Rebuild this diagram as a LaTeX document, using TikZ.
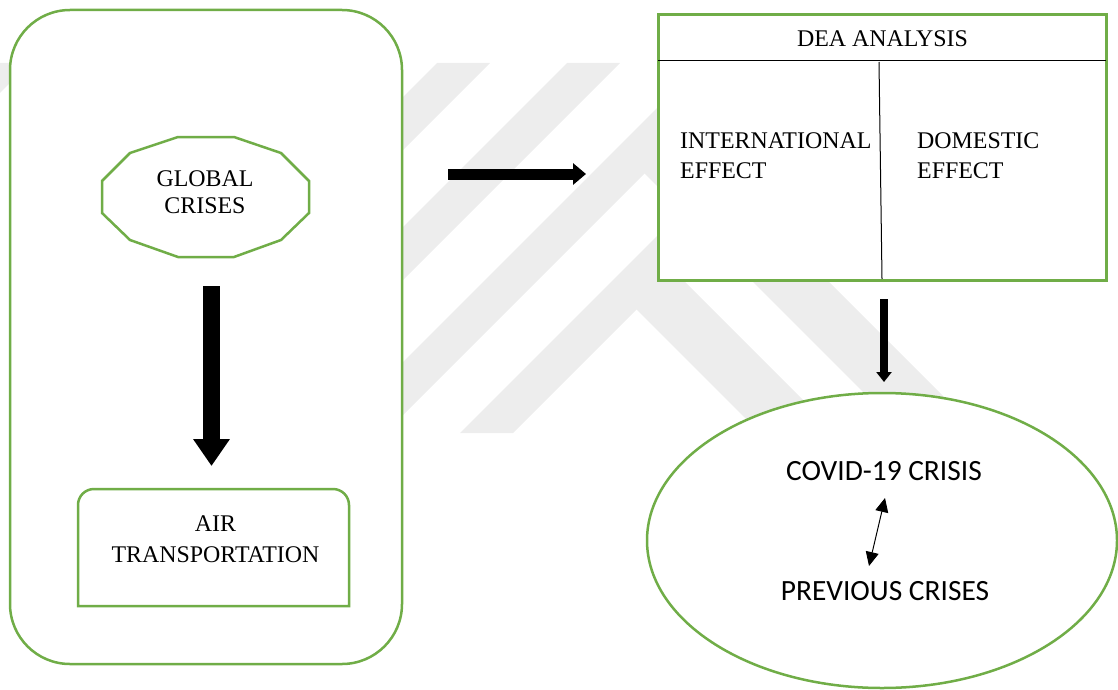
\documentclass[tikz,border=0pt]{standalone}
\usepackage{fontspec}
\setmainfont{Liberation Serif}
\newfontfamily\calibrifont{Carlito}
\usetikzlibrary{arrows.meta,shapes.geometric}
\definecolor{xgreen}{HTML}{70AD47}
\definecolor{wmgrey}{HTML}{EDEDED}
\begin{document}
\begin{tikzpicture}[x=1pt,y=-1pt,
  greenline/.style={draw=xgreen, line width=2.5pt, fill=white},
  lbl/.style={font=\fontsize{23.9}{30}\selectfont, inner sep=0pt, align=center},
  sanslbl/.style={font=\calibrifont\fontsize{29.4}{35}\selectfont, inner sep=0pt},
  wm/.style={fill=wmgrey},
  thinline/.style={draw=black, line width=1pt},
  blockarrow/.style={draw=black, line width=#1}
]
\useasboundingbox (0,0) rectangle (1118,690);
% watermark
\fill[wm] (0,63) -- (30,63) -- (0,93) -- cycle;
\fill[wm] (437,63) -- (490,63) -- (402,151) -- (402,98) -- cycle;
\fill[wm] (567,63) -- (620,63) -- (402,281) -- (402,228) -- cycle;
% band c and its down-right arm
\fill[wm] (402,363) -- (720,45) -- (720,98) -- (402,416) -- cycle;
\fill[wm] (644.5,173.5) -- (991,520) -- (1067,520) -- (668.5,121.5) -- cycle;
% band d and its down-right arm
\fill[wm] (460,433) -- (730,163) -- (783,163) -- (513,433) -- cycle;
\fill[wm] (636.5,309.5) -- (777,450) -- (853,450) -- (656.5,253.5) -- cycle;
% left panel
\node[greenline, rounded corners=60pt, minimum width=392pt, minimum height=654pt, inner sep=0pt] (outer) at (206,337) {};
\draw[greenline] (178,137) -- (234,137) -- (281,153) -- (309,181) -- (309,213) -- (281,240) -- (234,257) -- (178,257) -- (130,240) -- (102,213) -- (102,181) -- (130,153) -- cycle;
\node[lbl, font=\fontsize{23.9}{26.7}\selectfont] (gc) at (205,192) {GLOBAL\\CRISES};
\draw[greenline] (78,606) -- (78,560) [rounded corners=16pt] -- (78,489) -- (349,489) -- (349,560) [sharp corners] -- (349,606) -- cycle;
\node[lbl, font=\fontsize{23.9}{31}\selectfont] (air) at (215.5,539.2) {AIR\\TRANSPORTATION};
\coordinate (a1s) at (211.5,286);
\coordinate (a1e) at (211.5,466);
\draw[blockarrow=17pt, -{Triangle[width=35pt,length=27pt]}] (a1s) -- (a1e);
% middle arrow
\coordinate (a2s) at (448,174);
\coordinate (a2e) at (586,174);
\draw[blockarrow=11pt, -{Triangle[width=21pt,length=13pt]}] (a2s) -- (a2e);
% DEA box
\node[draw=xgreen, line width=2.7pt, fill=white, minimum width=448pt, minimum height=266pt, inner sep=0pt] (dea) at (882.3,147.2) {};
\draw[thinline] (658.3,61) -- (1106.3,61);
\draw[thinline] (879,62) -- (882,279);
\node[lbl] (deat) at (882.5,38.8) {DEA ANALYSIS};
\node[lbl, align=left, anchor=west] (intl) at (680,155.3) {INTERNATIONAL\\EFFECT};
\node[lbl, align=left, anchor=west] (dom) at (917,155.3) {DOMESTIC\\EFFECT};
% arrow to ellipse
\coordinate (a3s) at (884,299);
\coordinate (a3e) at (884,382);
\draw[blockarrow=8pt, -{Triangle[width=15pt,length=10pt]}] (a3s) -- (a3e);
% ellipse
\node[greenline, ellipse, minimum width=470pt, minimum height=295pt, inner sep=0pt] (ell) at (882,540.5) {};
\node[sanslbl] (covid) at (884,471) {COVID-19 CRISIS};
\node[sanslbl] (prev) at (885,591) {PREVIOUS CRISES};
\coordinate (d1) at (885,498);
\coordinate (d2) at (869,566);
\draw[thinline, {Triangle[width=13pt,length=14pt]}-{Triangle[width=13pt,length=14pt]}] (d1) -- (d2);
\end{tikzpicture}
\end{document}
